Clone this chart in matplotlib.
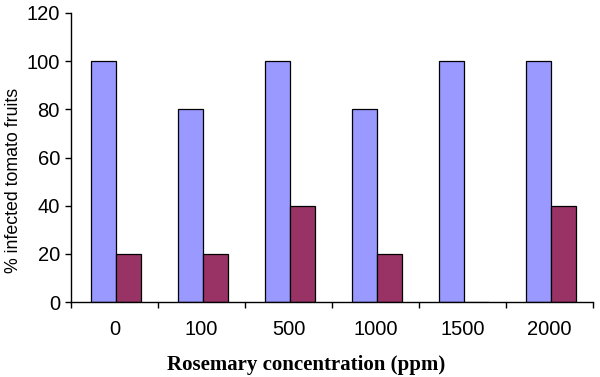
import matplotlib
matplotlib.use("Agg")
import matplotlib.pyplot as plt
import numpy as np

categories = ["0", "100", "500", "1000", "1500", "2000"]
series_a = [100, 80, 100, 80, 100, 100]
series_b = [20, 20, 40, 20, 0, 40]

fig = plt.figure(figsize=(6.0, 3.77), dpi=100)
ax = fig.add_axes([71/600, 1 - 302/377, (593-71)/600, (302-13)/377])

x = np.arange(len(categories))
w = 0.29
ax.bar(x - w/2 + 0.02, series_a, width=w, color="#9999FF", edgecolor="black", linewidth=0.9)
ax.bar(x + w/2 + 0.02, series_b, width=w, color="#993366", edgecolor="black", linewidth=0.9)

ax.set_xlim(-0.5, len(categories) - 0.5)
ax.set_ylim(0, 120)
ax.set_yticks(range(0, 121, 20))
ax.set_xticks(np.arange(-0.5, len(categories), 1.0))
ax.set_xticklabels([])
ax.set_xticks(x, minor=True)
ax.set_xticklabels(categories, minor=True, fontsize=14.5, family="Liberation Sans")
ax.tick_params(axis="x", which="minor", length=0, pad=13)
ax.tick_params(axis="x", which="major", direction="out", length=4, width=1)
ax.tick_params(axis="y", direction="out", length=4, width=1, labelsize=14.5, pad=4)
for lab in ax.get_yticklabels():
    lab.set_family("Liberation Sans")

for s in ["top", "right"]:
    ax.spines[s].set_visible(False)
for s in ["left", "bottom"]:
    ax.spines[s].set_linewidth(1)
    ax.spines[s].set_color("black")

fig.text(14/600, 1 - 180/377, "% infected tomato fruits", rotation=90, fontsize=12.8,
         family="Liberation Sans", ha="center", va="center")
fig.text(306/600, 1 - 365/377, "Rosemary concentration (ppm)", fontsize=15,
         family="Liberation Serif", fontweight="bold", ha="center", va="center")

fig.savefig("out.png", dpi=100)
